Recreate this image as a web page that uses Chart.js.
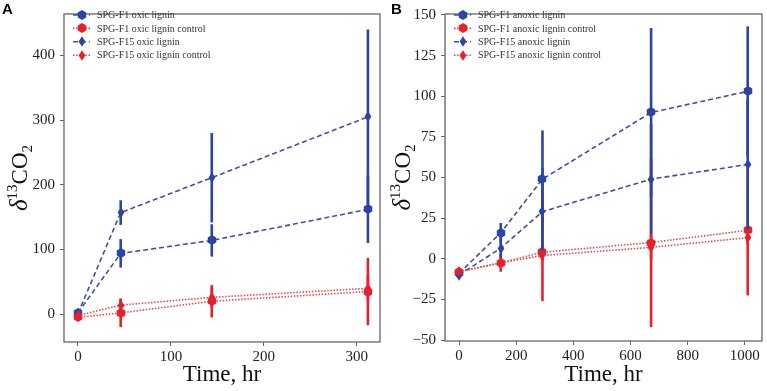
<!DOCTYPE html>
<html><head><meta charset="utf-8">
<script src="https://cdn.jsdelivr.net/npm/chart.js@4.4.0/dist/chart.umd.min.js"></script>
<style>
body{margin:0;background:#fff;width:767px;height:391px;overflow:hidden;position:relative}
canvas{position:absolute;top:0}
#chartA{left:0}
#chartB{left:385px}
.tag{position:absolute;font-family:"Liberation Sans",Arial,sans-serif;font-weight:bold;font-size:15px;line-height:1;color:#000}
</style></head><body>
<canvas id="chartA" width="383" height="391"></canvas>
<canvas id="chartB" width="382" height="391"></canvas>
<div class="tag" style="left:2px;top:1px">A</div>
<div class="tag" style="left:391px;top:1px">B</div>
<script>
// panel A - oxic
const timeA=[0,46,144,312];
const f1LigA=[2,94,114,162];
const f1LigAErr=[3,22,25,52];
const f1CtlA=[-5,2,20,35];
const f1CtlAErr=[3,22,25,52];
const f15LigA=[1,157,211,305];
const f15LigAErr=[3,19,69,135];
const f15CtlA=[-2,14,26,40];
const f15CtlAErr=[2,10,15,20];
const xTicksA=[0,100,200,300];
const yTicksA=[0,100,200,300,400];
const labelsA=["SPG-F1 oxic lignin","SPG-F1 oxic lignin control","SPG-F15 oxic lignin","SPG-F15 oxic lignin control"];

// panel B - anoxic
const timeB=[0,146,292,672,1010];
const f1LigB=[-9,16,49,90,103];
const f1LigBErr=[1,6,30,52,40];
const f1CtlB=[-8,-2.5,4,10,17.5];
const f1CtlBErr=[1,5.5,30,52,40];
const f15LigB=[-10,6.5,29,49,58];
const f15LigBErr=[1,6,27,34,40];
const f15CtlB=[-8,-2.5,2,7,13];
const f15CtlBErr=[1,3,3,8,4];
const xTicksB=[0,200,400,600,800,1000];
const yTicksB=[-50,-25,0,25,50,75,100,125,150];
const labelsB=["SPG-F1 anoxic lignin","SPG-F1 anoxic lignin control","SPG-F15 anoxic lignin","SPG-F15 anoxic lignin control"];

const BLUE="#2c44a4", RED="#e8202a";
const LINE_BLUE="#42509a", LINE_RED="#e84650";
const SERIF='"Liberation Serif","Times New Roman",serif';

function hexMark(color){
    const c=document.createElement("canvas"); c.width=10; c.height=10;
    const g=c.getContext("2d"); g.fillStyle=color; g.beginPath();
    for(let i=0;i<6;i++){
        const a=Math.PI/3*i-Math.PI/2;
        const px=5+4.9*Math.cos(a), py=5+4.9*Math.sin(a);
        i?g.lineTo(px,py):g.moveTo(px,py);
    }
    g.closePath(); g.fill();
    return c;
}
function diamondMark(color){
    const c=document.createElement("canvas"); c.width=8; c.height=11;
    const g=c.getContext("2d"); g.fillStyle=color; g.beginPath();
    g.moveTo(4,0.3); g.lineTo(7.4,5.5); g.lineTo(4,10.7); g.lineTo(0.6,5.5);
    g.closePath(); g.fill();
    return c;
}

// one dataset; control series are red dotted, lignin series blue dashed
function series(xs,ys,errs,label,control,f15,order){
    const col=control?RED:BLUE;
    return {
        label:label,
        data:xs.map((x,i)=>({x:x,y:ys[i]})),
        errors:errs,
        errColor:col,
        marker:f15?diamondMark(col):hexMark(col),
        borderColor:control?LINE_RED:LINE_BLUE,
        borderDash:control?[1.5,1.6]:[5,3],
        borderWidth:1.6,
        pointRadius:0,
        pointHoverRadius:0,
        fill:false,
        tension:0,
        order:order
    };
}

// vertical error bars under each dataset's line, markers on top
const errorBars={
    id:"errorBars",
    beforeDatasetDraw(chart,args){
        const ds=chart.data.datasets[args.index];
        if(!ds.errors) return;
        const ctx=chart.ctx, xs=chart.scales.x, ys=chart.scales.y;
        ctx.save();
        ctx.strokeStyle=ds.errColor; ctx.lineWidth=2.6; ctx.setLineDash([]);
        ds.data.forEach((p,i)=>{
            const e=ds.errors[i], px=xs.getPixelForValue(p.x);
            ctx.beginPath();
            ctx.moveTo(px,ys.getPixelForValue(p.y-e));
            ctx.lineTo(px,ys.getPixelForValue(p.y+e));
            ctx.stroke();
        });
        ctx.restore();
    },
    afterDatasetDraw(chart,args){
        const ds=chart.data.datasets[args.index];
        const ctx=chart.ctx, m=ds.marker;
        args.meta.data.forEach(pt=>{
            ctx.drawImage(m,Math.round(pt.x-m.width/2),Math.round(pt.y-m.height/2));
        });
    }
};

const frame={
    id:"frame",
    afterDraw(chart){
        const a=chart.chartArea, ctx=chart.ctx;
        ctx.save(); ctx.strokeStyle="#666"; ctx.lineWidth=1.3;
        ctx.strokeRect(a.left,a.top,a.right-a.left,a.bottom-a.top);
        ctx.restore();
    }
};

const legendBox={
    id:"legendBox",
    afterDraw(chart){
        const ctx=chart.ctx, a=chart.chartArea;
        ctx.save();
        chart.data.datasets.forEach((ds,i)=>{
            const y=15+13.4*i, x0=a.left+9;
            ctx.strokeStyle=ds.borderColor; ctx.lineWidth=1.6;
            ctx.setLineDash(ds.borderDash);
            ctx.beginPath(); ctx.moveTo(x0,y); ctx.lineTo(x0+17,y); ctx.stroke();
            ctx.setLineDash([]);
            ctx.drawImage(ds.marker,Math.round(x0+8.5-ds.marker.width/2),Math.round(y-ds.marker.height/2));
            ctx.fillStyle="#333"; ctx.font="10px "+SERIF; ctx.textBaseline="middle";
            ctx.fillText(ds.label,a.left+33,y+0.5);
        });
        ctx.restore();
    }
};

const yTitle={
    id:"yTitle",
    afterDraw(chart,args,o){
        const ctx=chart.ctx, a=chart.chartArea;
        const parts=[
            ["\u03b4","italic 25px "+SERIF,0],
            ["13","15px "+SERIF,-10],
            ["CO","23px "+SERIF,0],
            ["2","15px "+SERIF,5]
        ];
        ctx.save();
        ctx.translate(o.x,(a.top+a.bottom)/2);
        ctx.rotate(-Math.PI/2);
        ctx.fillStyle="#111"; ctx.textBaseline="alphabetic";
        let total=0;
        parts.forEach(p=>{ctx.font=p[1]; total+=ctx.measureText(p[0]).width;});
        let x=-total/2;
        parts.forEach(p=>{
            ctx.font=p[1]; ctx.fillText(p[0],x,8+p[2]);
            x+=ctx.measureText(p[0]).width;
        });
        ctx.restore();
    }
};

function fmt(v){ return v<0 ? "\u2212"+Math.abs(v) : String(v); }

function makeChart(id,c){
    return new Chart(document.getElementById(id),{
        type:"line",
        data:{datasets:c.datasets},
        options:{
            responsive:false,
            animation:false,
            events:[],
            layout:{padding:{left:0,right:c.padRight,top:c.padTop,bottom:0}},
            plugins:{legend:{display:false},tooltip:{enabled:false},yTitle:{x:c.titleX}},
            scales:{
                x:{
                    type:"linear",min:c.xMin,max:c.xMax,
                    afterBuildTicks:s=>{s.ticks=c.xTicks.map(v=>({value:v}));},
                    afterFit:s=>{s.height=c.xH;},
                    grid:{drawOnChartArea:false,drawTicks:true,tickLength:4,color:"#666",tickColor:"#666"},
                    border:{display:false},
                    ticks:{font:{family:SERIF,size:15},color:"#222",padding:2,callback:fmt,maxRotation:0},
                    title:{display:true,text:"Time, hr",font:{family:SERIF,size:23,lineHeight:1.2},color:"#111",padding:{top:0,bottom:2}}
                },
                y:{
                    type:"linear",min:c.yMin,max:c.yMax,
                    afterBuildTicks:s=>{s.ticks=c.yTicks.map(v=>({value:v}));},
                    afterFit:s=>{s.width=c.yW;},
                    grid:{drawOnChartArea:false,drawTicks:true,tickLength:4,color:"#666",tickColor:"#666"},
                    border:{display:false},
                    ticks:{font:{family:SERIF,size:15},color:"#222",padding:5,callback:fmt}
                }
            }
        },
        plugins:[errorBars,frame,legendBox,yTitle]
    });
}

makeChart("chartA",{
    datasets:[
        series(timeA,f1LigA,f1LigAErr,labelsA[0],false,false,4),
        series(timeA,f1CtlA,f1CtlAErr,labelsA[1],true,false,3),
        series(timeA,f15LigA,f15LigAErr,labelsA[2],false,true,2),
        series(timeA,f15CtlA,f15CtlAErr,labelsA[3],true,true,1)
    ],
    xMin:-15,xMax:325,yMin:-43,yMax:464,
    xTicks:xTicksA,yTicks:yTicksA,
    padRight:3,padTop:3,yW:64,xH:49,titleX:19
});

makeChart("chartB",{
    datasets:[
        series(timeB,f1LigB,f1LigBErr,labelsB[0],false,false,4),
        series(timeB,f1CtlB,f1CtlBErr,labelsB[1],true,false,3),
        series(timeB,f15LigB,f15LigBErr,labelsB[2],false,true,2),
        series(timeB,f15CtlB,f15CtlBErr,labelsB[3],true,true,1)
    ],
    xMin:-49,xMax:1060,yMin:-50.6,yMax:150.6,
    xTicks:xTicksB,yTicks:yTicksB,
    padRight:5,padTop:5,yW:60,xH:50,titleX:17
});
</script>
</body></html>
